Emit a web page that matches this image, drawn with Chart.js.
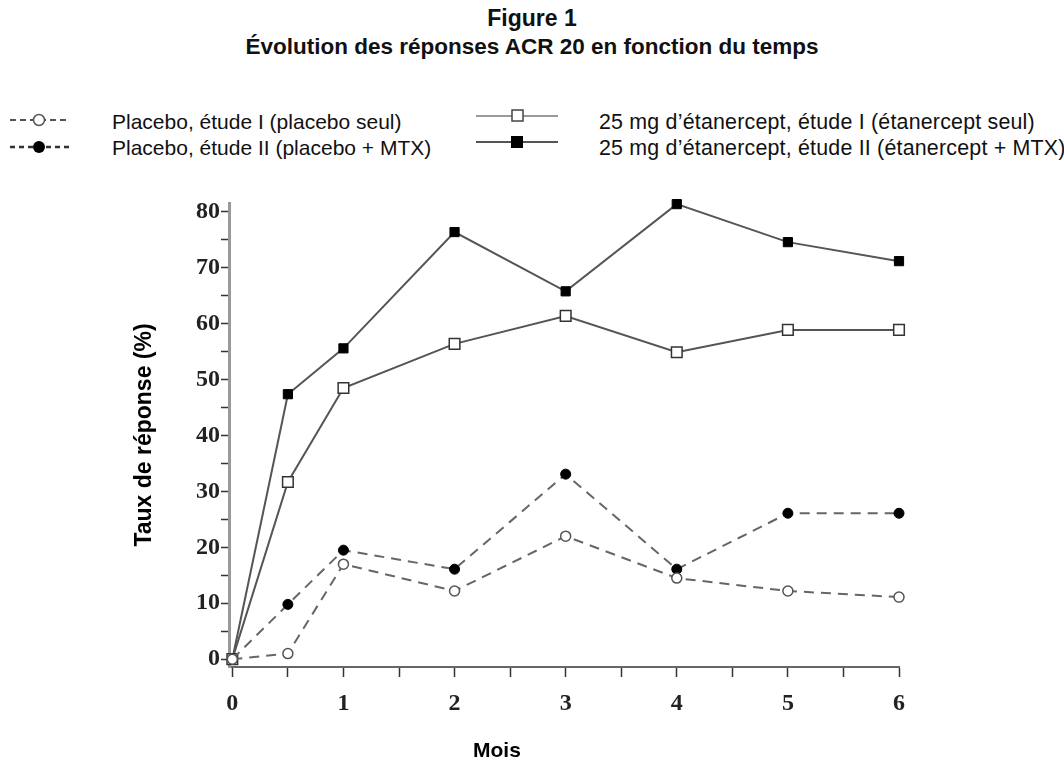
<!DOCTYPE html>
<html lang="fr">
<head>
<meta charset="utf-8"/>
<title>Figure 1 - Évolution des réponses ACR 20</title>
<script src="https://cdn.jsdelivr.net/npm/chart.js"></script>
<style>
body { margin: 0; background: #fff; font-family: 'Liberation Sans', Arial, sans-serif; }
.wrap { position: relative; width: 1064px; height: 765px; }
.wrap canvas { position: absolute; left: 0; top: 0; }
.title1 { position: absolute; left: 0; width: 1064px; top: 5px; text-align: center; font-weight: bold; font-size: 23px; color: #111; }
.title2 { position: absolute; left: 0; width: 1064px; top: 34px; text-align: center; font-weight: bold; font-size: 22.5px; color: #111; }
.leg { position: absolute; font-size: 21px; line-height: 24px; color: #111; white-space: nowrap; }
.leg.r { font-size: 21.4px; letter-spacing: 0.2px; }
.mk { position: absolute; }
.xtitle { position: absolute; top: 738px; left: 473px; font-weight: bold; font-size: 21px; }
</style>
</head>
<body>
<div class="wrap">
  <div class="title1">Figure 1</div>
  <div class="title2">Évolution des réponses ACR 20 en fonction du temps</div>

  <svg class="mk" style="left:8px;top:108px" width="70" height="50">
    <line x1="2" y1="12" x2="62" y2="12" stroke="#555" stroke-width="2" stroke-dasharray="6,4"/>
    <circle cx="31" cy="12" r="5.5" fill="#fff" stroke="#555" stroke-width="1.5"/>
    <line x1="2" y1="39" x2="62" y2="39" stroke="#333" stroke-width="2.5" stroke-dasharray="5,4"/>
    <circle cx="31" cy="39" r="6" fill="#000"/>
  </svg>
  <div class="leg" style="left:112px;top:110px">Placebo, étude I (placebo seul)</div>
  <div class="leg" style="left:112px;top:136px">Placebo, étude II (placebo + MTX)</div>

  <svg class="mk" style="left:474px;top:106px" width="90" height="50">
    <line x1="2" y1="10" x2="84" y2="10" stroke="#777" stroke-width="1.5"/>
    <rect x="38" y="4" width="11" height="11" fill="#fff" stroke="#444" stroke-width="1.5"/>
    <line x1="2" y1="36" x2="84" y2="36" stroke="#555" stroke-width="2"/>
    <rect x="37" y="30" width="12" height="12" fill="#000"/>
  </svg>
  <div class="leg r" style="left:599px;top:110px">25 mg d’étanercept, étude I (étanercept seul)</div>
  <div class="leg r" style="left:599px;top:136px">25 mg d’étanercept, étude II (étanercept + MTX)</div>

  <canvas id="chart" width="1064" height="765"></canvas>
  <div class="xtitle">Mois</div>
</div>
<script>
// mois
const months = [0, 0.5, 1, 2, 3, 4, 5, 6];
// taux de réponse ACR 20 (%)
const placeboI = [0, 1, 17, 12.2, 22, 14.5, 12.2, 11.1];
const placeboII = [0, 9.8, 19.5, 16.1, 33.1, 16.1, 26.1, 26.1];
const etanerceptI = [0, 31.7, 48.5, 56.4, 61.4, 54.9, 58.9, 58.9];
const etanerceptII = [0, 47.4, 55.6, 76.4, 65.8, 81.4, 74.6, 71.2];
// graduations
const xTicks = [0, 0.5, 1, 1.5, 2, 2.5, 3, 3.5, 4, 4.5, 5, 5.5, 6];
const yTicks = [0, 5, 10, 15, 20, 25, 30, 35, 40, 45, 50, 55, 60, 65, 70, 75, 80];

const pts = arr => arr.map((v, i) => ({ x: months[i], y: v }));

const tickFont = { family: "'Liberation Serif', 'DejaVu Serif', serif", size: 24, weight: 'bold' };

new Chart(document.getElementById("chart"), {
  type: "line",
  data: {
    datasets: [
      {
        label: "Placebo, étude I (placebo seul)",
        data: pts(placeboI),
        borderColor: "#666", borderWidth: 2, borderDash: [10, 7],
        pointStyle: "circle", pointRadius: 5,
        pointBackgroundColor: "#fff", pointBorderColor: "#555", pointBorderWidth: 1.5
      },
      {
        label: "Placebo, étude II (placebo + MTX)",
        data: pts(placeboII),
        borderColor: "#666", borderWidth: 2, borderDash: [10, 7],
        pointStyle: "circle", pointRadius: 5,
        pointBackgroundColor: "#000", pointBorderColor: "#000", pointBorderWidth: 1
      },
      {
        label: "25 mg d’étanercept, étude I (étanercept seul)",
        data: pts(etanerceptI),
        borderColor: "#555", borderWidth: 2,
        pointStyle: "rect", pointRadius: 7.5,
        pointBackgroundColor: "#fff", pointBorderColor: "#333", pointBorderWidth: 1.5
      },
      {
        label: "25 mg d’étanercept, étude II (étanercept + MTX)",
        data: pts(etanerceptII),
        borderColor: "#555", borderWidth: 2,
        pointStyle: "rect", pointRadius: 6.5,
        pointBackgroundColor: "#000", pointBorderColor: "#000", pointBorderWidth: 1
      }
    ]
  },
  options: {
    responsive: false,
    animation: false,
    clip: false,
    layout: { padding: { left: 118, top: 203, right: 165, bottom: 38 } },
    plugins: { legend: { display: false }, tooltip: { enabled: false } },
    scales: {
      x: {
        type: "linear",
        min: -0.03, max: 6,
        afterBuildTicks: s => { s.ticks = xTicks.map(v => ({ value: v })); },
        afterFit: s => { s.height = 60; },
        border: { color: "#666", width: 2 },
        grid: { drawOnChartArea: false, tickLength: 10, tickColor: "#333", tickWidth: 1.5 },
        ticks: {
          font: tickFont, color: "#222", padding: 12, maxRotation: 0, autoSkip: false,
          callback: v => Number.isInteger(v) ? v : ""
        }
      },
      y: {
        min: -1.4, max: 81.6,
        afterBuildTicks: s => { s.ticks = yTicks.map(v => ({ value: v })); },
        afterFit: s => { s.width = 111; },
        border: { color: "#999", width: 3 },
        grid: { drawOnChartArea: false, tickLength: 8, tickColor: "#333", tickWidth: 1.5 },
        ticks: {
          font: tickFont, color: "#222", padding: 1, autoSkip: false,
          callback: v => v % 10 === 0 ? v : ""
        },
        title: {
          display: true,
          text: "Taux de réponse (%)",
          font: { family: "'Liberation Sans', Arial, sans-serif", size: 23, weight: 'bold' },
          color: "#000",
          padding: { top: 13, bottom: 0 }
        }
      }
    }
  }
});
</script>
</body>
</html>
